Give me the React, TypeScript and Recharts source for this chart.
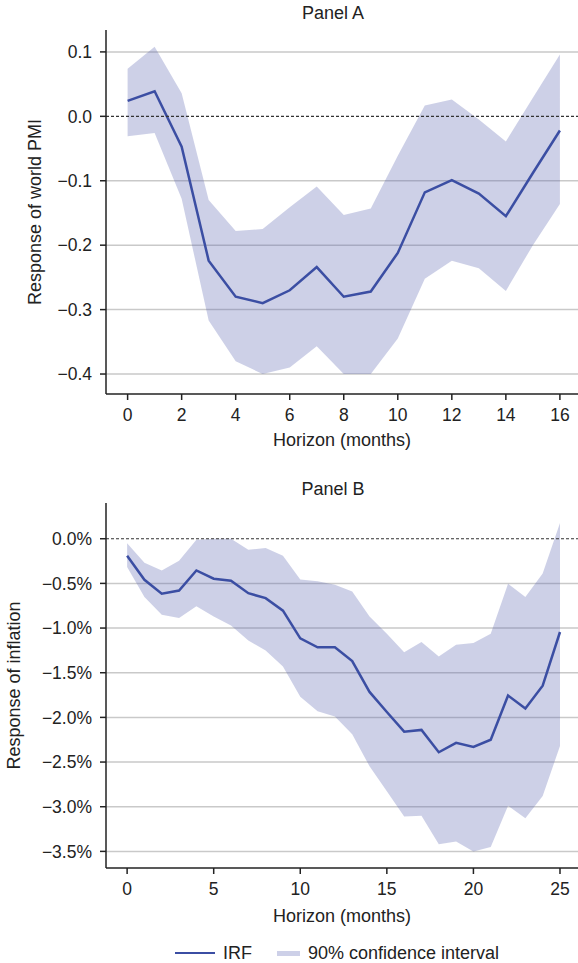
import React from 'react'
import { ComposedChart, Area, Line, XAxis, YAxis, CartesianGrid, ReferenceLine } from 'recharts'

// Panel A: world PMI response
const horizonA = [0, 1, 2, 3, 4, 5, 6, 7, 8, 9, 10, 11, 12, 13, 14, 15, 16]
const irfA = [0.024, 0.039, -0.047, -0.224, -0.28, -0.29, -0.27, -0.234, -0.28, -0.272, -0.212, -0.118, -0.099, -0.12, -0.155, -0.088, -0.022]
const upperA = [0.074, 0.108, 0.036, -0.13, -0.178, -0.175, -0.141, -0.109, -0.153, -0.143, -0.061, 0.017, 0.026, -0.005, -0.039, 0.029, 0.096]
const lowerA = [-0.031, -0.026, -0.128, -0.317, -0.38, -0.4, -0.39, -0.357, -0.4, -0.4, -0.345, -0.252, -0.224, -0.236, -0.271, -0.2, -0.136]
const xTicksA = [0, 2, 4, 6, 8, 10, 12, 14, 16]
const yTicksA = [-0.4, -0.3, -0.2, -0.1, 0, 0.1]

// Panel B: inflation response (percent)
const horizonB = [0, 1, 2, 3, 4, 5, 6, 7, 8, 9, 10, 11, 12, 13, 14, 15, 16, 17, 18, 19, 20, 21, 22, 23, 24, 25]
const irfB = [-0.19, -0.46, -0.615, -0.58, -0.355, -0.447, -0.47, -0.61, -0.665, -0.805, -1.115, -1.215, -1.215, -1.37, -1.715, -1.94, -2.16, -2.14, -2.39, -2.285, -2.33, -2.25, -1.756, -1.9, -1.645, -1.044]
const upperB = [-0.05, -0.27, -0.355, -0.246, -0.01, 0, 0, -0.123, -0.105, -0.19, -0.455, -0.477, -0.515, -0.59, -0.87, -1.063, -1.27, -1.155, -1.317, -1.186, -1.167, -1.063, -0.503, -0.652, -0.39, 0.175]
const lowerB = [-0.317, -0.652, -0.85, -0.887, -0.757, -0.87, -0.97, -1.14, -1.25, -1.43, -1.77, -1.93, -1.99, -2.19, -2.547, -2.827, -3.11, -3.1, -3.42, -3.39, -3.5, -3.45, -2.99, -3.13, -2.88, -2.32]
const xTicksB = [0, 5, 10, 15, 20, 25]
const yTicksB = [-3.5, -3, -2.5, -2, -1.5, -1, -0.5, 0]

const FONT = '"Liberation Sans", Arial, Helvetica, sans-serif'
const INK = '#222'
const LINE = '#3b4ea3'
const BAND = '#5862af'
const GRID = '#c9c9c9'
const FS = 18

const fmt = (v: number, suffix = '') => {
  const s = Math.abs(v).toFixed(1) + suffix
  return v < 0 ? '\u2212' + s : s
}

const tick = { fill: INK, fontSize: 17.5, fontFamily: FONT }
const tickLine = { stroke: INK, strokeWidth: 1.5 }
const axisLine = { stroke: INK, strokeWidth: 1.5 }
const labelStyle = { fill: INK, fontSize: FS, fontFamily: FONT }

const dataA = horizonA.map((h, i) => ({ h, irf: irfA[i], band: [lowerA[i], upperA[i]] }))
const dataB = horizonB.map((h, i) => ({ h, irf: irfB[i], band: [lowerB[i], upperB[i]] }))

const title = (text: string, top: number) => (
  <div style={{ position: 'absolute', left: 0, top, width: 666, textAlign: 'center', fontFamily: FONT, fontSize: FS, color: INK }}>{text}</div>
)

export default function App() {
  return (
    <div style={{ position: 'absolute', left: 0, top: 0, width: 578, height: 963, background: '#fff', fontFamily: FONT }}>
      {title('Panel A', 3)}
      <div style={{ position: 'absolute', left: 0, top: 0 }}>
        <ComposedChart width={578} height={460} data={dataA} margin={{ top: 30, right: 0, bottom: 0, left: 0 }}>
          <CartesianGrid vertical={false} horizontalValues={[0.1, -0.1, -0.2, -0.3, -0.4]} stroke={GRID} strokeWidth={1.5} />
          <XAxis dataKey="h" type="number" domain={[-0.8, 16.67]} ticks={xTicksA} allowDataOverflow height={66}
            tick={tick} tickLine={tickLine} axisLine={axisLine} tickSize={6} tickMargin={9}
            label={{ value: 'Horizon (months)', position: 'insideBottom', offset: 14, ...labelStyle }} />
          <YAxis type="number" domain={[-0.431, 0.134]} ticks={yTicksA} allowDataOverflow width={106}
            tick={tick} tickLine={tickLine} axisLine={axisLine} tickSize={6} tickMargin={8} tickFormatter={(v: number) => fmt(v)}
            label={{ value: 'Response of world PMI', angle: -90, position: 'insideLeft', offset: 35, ...labelStyle, style: { textAnchor: 'middle' } }} />
          <Area type="linear" dataKey="band" stroke="none" fill={BAND} fillOpacity={0.3} isAnimationActive={false} />
          <Line type="linear" dataKey="irf" stroke={LINE} strokeWidth={2.5} dot={false} isAnimationActive={false} />
          <ReferenceLine y={0} stroke="#333" strokeWidth={1.2} strokeDasharray="3 2" />
        </ComposedChart>
      </div>
      {title('Panel B', 479)}
      <div style={{ position: 'absolute', left: 0, top: 460 }}>
        <ComposedChart width={578} height={503} data={dataB} margin={{ top: 43, right: 0, bottom: 0, left: 0 }}>
          <CartesianGrid vertical={false} horizontalValues={[-0.5, -1, -1.5, -2, -2.5, -3, -3.5]} stroke={GRID} strokeWidth={1.5} />
          <XAxis dataKey="h" type="number" domain={[-1.22, 26.04]} ticks={xTicksB} allowDataOverflow height={95}
            tick={tick} tickLine={tickLine} axisLine={axisLine} tickSize={6} tickMargin={9}
            label={{ value: 'Horizon (months)', position: 'insideBottom', offset: 41, ...labelStyle }} />
          <YAxis type="number" domain={[-3.686, 0.4]} ticks={yTicksB} allowDataOverflow width={106}
            tick={tick} tickLine={tickLine} axisLine={axisLine} tickSize={6} tickMargin={8} tickFormatter={(v: number) => fmt(v, '%')}
            label={{ value: 'Response of inflation', angle: -90, position: 'insideLeft', offset: 14, ...labelStyle, style: { textAnchor: 'middle' } }} />
          <Area type="linear" dataKey="band" stroke="none" fill={BAND} fillOpacity={0.3} isAnimationActive={false} />
          <Line type="linear" dataKey="irf" stroke={LINE} strokeWidth={2.5} dot={false} isAnimationActive={false} />
          <ReferenceLine y={0} stroke="#333" strokeWidth={1.2} strokeDasharray="3 2" />
        </ComposedChart>
      </div>
      <div style={{ position: 'absolute', left: 175, top: 941, height: 24, display: 'flex', alignItems: 'center', fontSize: FS, color: INK }}>
        <span style={{ display: 'inline-block', width: 40, height: 2.5, background: LINE, marginRight: 8 }} />
        <span style={{ marginRight: 25 }}>IRF</span>
        <span style={{ display: 'inline-block', width: 23, height: 5, background: '#cdd0e8', marginRight: 8 }} />
        <span>90% confidence interval</span>
      </div>
    </div>
  )
}
